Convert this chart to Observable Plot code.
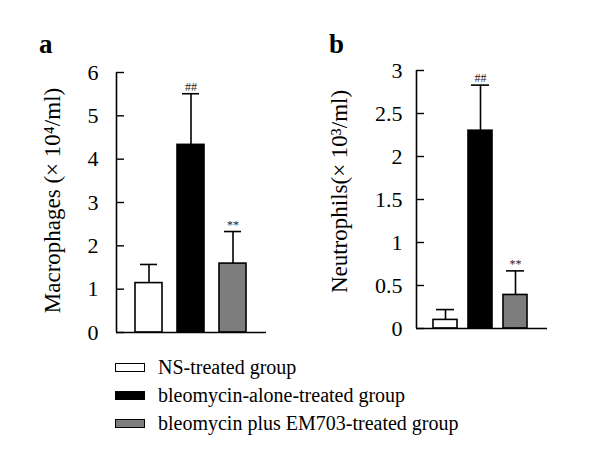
<!DOCTYPE html>
<html>
<head>
<meta charset="utf-8">
<script src="https://cdn.jsdelivr.net/npm/d3@7"></script>
<script src="https://cdn.jsdelivr.net/npm/@observablehq/plot@0.6"></script>
<style>
  body { margin: 0; background: #fff; }
  #wrap { position: relative; width: 600px; height: 469px; background: #fff; font-family: "Liberation Serif", "DejaVu Serif", serif; color: #000; }
  .panel { position: absolute; top: 0; }
  .letter { position: absolute; font-weight: bold; font-size: 27px; line-height: 1; z-index: 2; }
  #legend { position: absolute; left: 115px; top: 353px; font-size: 20px; }
  .row { display: flex; align-items: center; height: 28px; }
  .sw { width: 28px; height: 7px; border: 1.5px solid #000; margin-right: 13px; }
</style>
</head>
<body>
<div id="wrap">
  <div id="pa" class="panel" style="left:0px;"></div>
  <div id="pb" class="panel" style="left:300px;"></div>
  <div class="letter" style="left:39px;top:31px;">a</div>
  <div class="letter" style="left:329px;top:31px;">b</div>
  <div id="legend"></div>
</div>
<script>
// ---- data ----
const groups = ["NS-treated group", "bleomycin-alone-treated group", "bleomycin plus EM703-treated group"];
const groupColors = ["#ffffff", "#000000", "#7d7d7d"];
const significance = ["", "##", "**"];

const macrophageMean = [1.14, 4.33, 1.59];
const macrophageErr  = [1.57, 5.51, 2.33];
const macrophageTicks = [0, 1, 2, 3, 4, 5, 6];

const neutrophilMean = [0.10, 2.30, 0.39];
const neutrophilErr  = [0.22, 2.83, 0.67];
const neutrophilTicks = [0, 0.5, 1, 1.5, 2, 2.5, 3];

const FONT = "Liberation Serif";

function panel({mean, err, ticks, label, width, height, marginLeft, marginRight, marginTop, marginBottom,
                xRange, padInner, capInset, labelDx, labelDy, tickPad}) {
  const rows = groups.map((g, i) => ({group: g, value: mean[i], err: err[i], sig: significance[i], color: groupColors[i]}));
  const frameW = width - marginLeft - marginRight;
  const yDom = [ticks[0], ticks[ticks.length - 1]];
  return Plot.plot({
    width, height, marginLeft, marginRight, marginTop, marginBottom,
    style: {fontFamily: FONT, background: "transparent", color: "#000", overflow: "visible"},
    x: {type: "band", domain: groups, range: xRange, paddingInner: padInner, paddingOuter: padInner / 2, axis: null},
    y: {domain: yDom, axis: null},
    marks: [
      // error bars
      Plot.ruleX(rows, {x: "group", y1: "value", y2: "err", stroke: "#000", strokeWidth: 1.6}),
      Plot.tickY(rows, {x: "group", y: "err", stroke: "#000", strokeWidth: 1.6, insetLeft: capInset, insetRight: capInset}),
      // bars
      Plot.rectY(rows, {x: "group", y: "value", fill: "color", stroke: "#000", strokeWidth: 1.6}),
      // significance marks
      Plot.text(rows, {x: "group", y: "err", text: "sig", lineAnchor: "bottom", dy: -3, fontSize: 12, fill: "#222"}),
      // axes lines
      Plot.ruleY([yDom[0]], {stroke: "#000", strokeWidth: 1.6}),
      Plot.ruleX([yDom], {x: null, y1: d => d[0], y2: d => d[1], dx: -frameW / 2, stroke: "#000", strokeWidth: 1.6}),
      // inward ticks
      Plot.tickY(ticks, {y: d => d, insetRight: frameW - 8, stroke: "#000", strokeWidth: 1.4}),
      // tick labels
      Plot.axisY(ticks, {tickSize: 0, tickPadding: tickPad, tickFormat: d => String(d), fontSize: 22, label: null}),
      // axis title
      Plot.text([label], {text: d => d, frameAnchor: "left", textAnchor: "middle", rotate: -90, dx: labelDx, dy: labelDy, fontSize: 23})
    ]
  });
}

document.getElementById("pa").append(panel({
  mean: macrophageMean, err: macrophageErr, ticks: macrophageTicks,
  label: "Macrophages (× 10⁴/ml)",
  width: 290, height: 350, marginLeft: 116, marginRight: 24, marginTop: 72, marginBottom: 18,
  xRange: [126.75, 254.25], padInner: 0.365, capInset: 5, labelDx: -64, labelDy: -2, tickPad: 18
}));

document.getElementById("pb").append(panel({
  mean: neutrophilMean, err: neutrophilErr, ticks: neutrophilTicks,
  label: "Neutrophils(× 10³/ml)",
  width: 260, height: 350, marginLeft: 116, marginRight: 13, marginTop: 70, marginBottom: 22,
  xRange: [126.75, 233.25], padInner: 0.31, capInset: 3, labelDx: -77, labelDy: -8, tickPad: 14
}));

const legend = document.getElementById("legend");
groups.forEach((g, i) => {
  const row = document.createElement("div");
  row.className = "row";
  const sw = document.createElement("div");
  sw.className = "sw";
  sw.style.background = groupColors[i];
  const t = document.createElement("span");
  t.textContent = g;
  row.append(sw, t);
  legend.append(row);
});
</script>
</body>
</html>
